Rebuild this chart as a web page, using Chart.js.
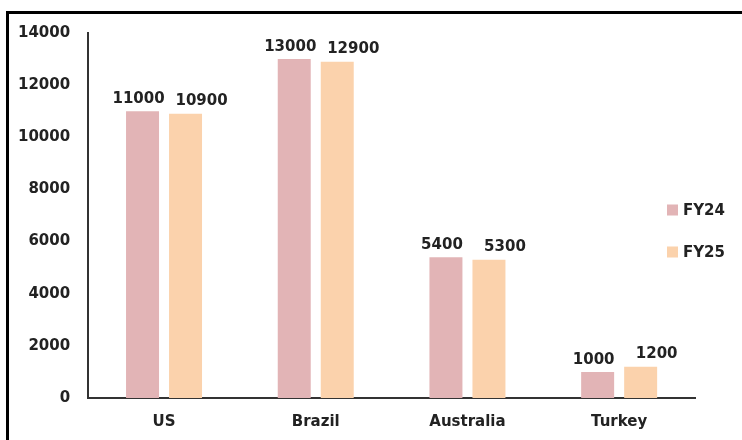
<!DOCTYPE html>
<html>
<head>
<meta charset="utf-8">
<script src="https://cdn.jsdelivr.net/npm/chart.js@4"></script>
<style>
  html, body { margin: 0; padding: 0; background: #fff; }
  #wrap { position: relative; width: 742px; height: 440px; overflow: hidden; }
  #frame { position: absolute; left: 6px; top: 11px; width: 800px; height: 500px;
           border-top: 3px solid #000; border-left: 3px solid #000; box-sizing: border-box; pointer-events: none; }
  canvas { position: absolute; left: 0; top: 0; }
</style>
</head>
<body>
<div id="wrap">
  <canvas id="c" width="742" height="440"></canvas>
  <div id="frame"></div>
</div>
<script>
const categories = ["US", "Brazil", "Australia", "Turkey"];
const fy24 = [11000, 13000, 5400, 1000];
const fy25 = [10900, 12900, 5300, 1200];
const seriesNames = ["FY24", "FY25"];
const yTicks = [0, 2000, 4000, 6000, 8000, 10000, 12000, 14000];

const FONT = "'DejaVu Sans', sans-serif";
const TEXT = "#222";
// value-label placement per series (style only): horizontal shift and gap above bar
const labelShift = [{ dx: -4, gap: 8 }, { dx: 16, gap: 9 }];

const valueLabels = {
  id: "valueLabels",
  afterDatasetsDraw(chart) {
    const ctx = chart.ctx;
    ctx.save();
    ctx.font = "bold 15px " + FONT;
    ctx.fillStyle = TEXT;
    ctx.textAlign = "center";
    ctx.textBaseline = "alphabetic";
    chart.data.datasets.forEach((ds, i) => {
      const meta = chart.getDatasetMeta(i);
      const s = labelShift[i];
      meta.data.forEach((bar, j) => {
        ctx.fillText(String(ds.data[j]), bar.x + s.dx, bar.y - s.gap);
      });
    });
    ctx.restore();
  }
};

// Legend drawn at the right, overlapping the plot's right margin as in the reference
const sideLegend = {
  id: "sideLegend",
  afterDraw(chart) {
    const ctx = chart.ctx;
    ctx.save();
    ctx.font = "bold 15px " + FONT;
    ctx.textBaseline = "middle";
    ctx.textAlign = "left";
    const x0 = 667, y0 = 210, step = 42, box = 11;
    chart.data.datasets.forEach((ds, i) => {
      const cy = y0 + i * step;
      ctx.fillStyle = ds.backgroundColor;
      ctx.fillRect(x0, cy - box / 2, box, box);
      ctx.fillStyle = TEXT;
      ctx.fillText(ds.label, x0 + box + 5, cy + 1);
    });
    ctx.restore();
  }
};

new Chart(document.getElementById("c"), {
  type: "bar",
  data: {
    labels: categories,
    datasets: [
      { label: seriesNames[0], data: fy24, backgroundColor: "#e2b4b6" },
      { label: seriesNames[1], data: fy25, backgroundColor: "#fbd2ac" }
    ]
  },
  options: {
    responsive: false,
    animation: false,
    devicePixelRatio: 1,
    layout: { padding: { left: 0, top: 33, right: 47, bottom: -6 } },
    datasets: { bar: { barPercentage: 0.767, categoryPercentage: 0.567 } },
    scales: {
      x: {
        grid: { display: false, drawTicks: false },
        border: { display: true, color: "#333", width: 2 },
        ticks: { color: TEXT, font: { family: FONT, size: 15, weight: "bold" }, padding: 15 }
      },
      y: {
        min: 0, max: 14000,
        afterBuildTicks(axis) { axis.ticks = yTicks.map(v => ({ value: v })); },
        grid: { display: false, drawTicks: false },
        border: { display: true, color: "#333", width: 2 },
        ticks: {
          color: TEXT, font: { family: FONT, size: 15, weight: "bold" }, padding: 18,
          callback: (v) => String(v)
        }
      }
    },
    plugins: {
      legend: { display: false },
      tooltip: { enabled: false }
    }
  },
  plugins: [valueLabels, sideLegend]
});
</script>
</body>
</html>
